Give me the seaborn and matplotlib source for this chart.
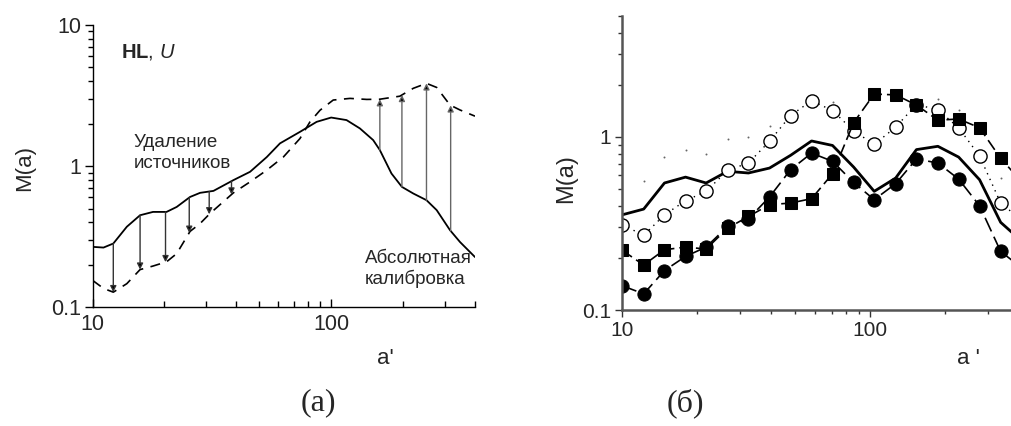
import numpy as np
import pandas as pd
import matplotlib
matplotlib.use("Agg")
import matplotlib.pyplot as plt
import seaborn as sns
from matplotlib.ticker import FixedLocator, FixedFormatter, NullFormatter

# ---------------- data: panel (a) ----------------
a_solid = [10, 11.1, 12.2, 13.9, 15.8, 17.9, 20.4, 22.5, 25.6, 28.2, 32.1, 38.9, 45.7,
           53.7, 61, 74, 86.9, 100, 116, 132, 150, 160, 179, 198, 221, 251, 277, 315, 347, 401]
m_solid = [0.268, 0.265, 0.283, 0.372, 0.449, 0.474, 0.474, 0.514, 0.605, 0.647, 0.668, 0.796, 0.912,
           1.16, 1.45, 1.75, 2.06, 2.21, 2.12, 1.85, 1.53, 1.30, 0.887, 0.713, 0.640, 0.574, 0.488, 0.352, 0.290, 0.227]
a_dash = [10, 11.1, 12.2, 13.9, 15.8, 17.9, 20.4, 22.5, 25.6, 28.2, 31.0, 38.9, 45.7, 53.7,
          63, 74, 81.5, 89.8, 102, 120, 141, 160, 194, 221, 251, 277, 315, 347, 401]
m_dash = [0.155, 0.136, 0.128, 0.147, 0.185, 0.196, 0.210, 0.240, 0.345, 0.392, 0.461, 0.647, 0.774, 0.937,
          1.16, 1.57, 2.06, 2.49, 2.94, 3.02, 2.97, 2.98, 3.13, 3.56, 3.86, 3.61, 2.71, 2.50, 2.26]
arrow_down_a = [12.2, 15.8, 20.2, 25.4, 30.8, 38.2]
arrow_up_a = [160, 198, 251, 317]

# ---------------- data: panel (b) ----------------
a_b = [10, 12.2, 14.8, 18.0, 21.8, 26.6, 32.3, 39.3, 47.8, 58.1, 70.6, 85.9, 104, 127, 154, 188,
       228, 277, 337, 410]
m_filled_circ = [0.138, 0.124, 0.169, 0.204, 0.231, 0.304, 0.336, 0.450, 0.647, 0.807, 0.723, 0.546,
                 0.434, 0.537, 0.746, 0.707, 0.571, 0.400, 0.218, 0.175]
m_squares = [0.221, 0.182, 0.223, 0.231, 0.225, 0.297, 0.347, 0.406, 0.415, 0.440, 0.613, 1.21,
             1.77, 1.75, 1.53, 1.25, 1.27, 1.13, 0.752, 0.55]
m_open_circ = [0.311, 0.270, 0.355, 0.428, 0.485, 0.641, 0.707, 0.944, 1.33, 1.62, 1.42, 1.085,
               0.905, 1.14, 1.54, 1.435, 1.13, 0.776, 0.415, 0.33]
m_solid_b = [0.355, 0.383, 0.542, 0.586, 0.542, 0.633, 0.619, 0.661, 0.783, 0.948, 0.893, 0.670,
             0.485, 0.579, 0.845, 0.883, 0.765, 0.566, 0.321, 0.25]
m_dots = [np.nan, 0.553, 0.766, 0.836, 0.800, 0.973, 1.0, 1.15, np.nan, np.nan, 1.59, np.nan,
          np.nan, np.nan, np.nan, 1.66, 1.43, np.nan, 0.579, np.nan]

# ---------------- style ----------------
sns.set_theme(style="ticks")
plt.rcParams["font.family"] = ["Liberation Sans", "DejaVu Sans"]
plt.rcParams["mathtext.fontset"] = "custom"
plt.rcParams["mathtext.rm"] = "Liberation Sans"
plt.rcParams["mathtext.bf"] = "Liberation Sans:bold"
plt.rcParams["mathtext.it"] = "Liberation Sans:italic"

W, H = 1011, 426
fig = plt.figure(figsize=(W / 100, H / 100), dpi=100)
fig.patch.set_facecolor("white")

def fx(px):
    return px / W

def fy(py):
    return 1 - py / H

axA = fig.add_axes([fx(92.7), fy(307.3), fx(475) - fx(92.7), fy(25) - fy(307.3)])
axB = fig.add_axes([fx(622.3), fy(310), 1 - fx(622.3), fy(16) - fy(310)])

for ax in (axA, axB):
    ax.set_xscale("log")
    ax.set_yscale("log")
    ax.set_facecolor("white")

# ---------------- panel (a) ----------------
dfa_s = pd.DataFrame({"a": a_solid, "M": m_solid})
dfa_d = pd.DataFrame({"a": a_dash, "M": m_dash})
sns.lineplot(data=dfa_s, x="a", y="M", ax=axA, color="black", lw=1.3, sort=False, estimator=None)
sns.lineplot(data=dfa_d, x="a", y="M", ax=axA, color="black", lw=1.2, sort=False, estimator=None)
axA.lines[-1].set_dashes((6, 4.5))

la_s, lm_s = np.log10(a_solid), np.log10(m_solid)
la_d, lm_d = np.log10(a_dash), np.log10(m_dash)
for a in arrow_down_a + arrow_up_a:
    y0 = 10 ** np.interp(np.log10(a), la_s, lm_s)
    y1 = 10 ** np.interp(np.log10(a), la_d, lm_d)
    col = "#333333" if a < 100 else "#666666"
    axA.annotate("", xy=(a, y1), xytext=(a, y0),
                 arrowprops=dict(arrowstyle="-|>", color=col, lw=1.0, mutation_scale=9,
                                 shrinkA=0, shrinkB=0, fc="black", ec=col))

axA.set_xlim(10, 401)
axA.set_ylim(0.1, 10)
axA.xaxis.set_major_locator(FixedLocator([10, 100]))
axA.xaxis.set_major_formatter(FixedFormatter(["10", "100"]))
axA.xaxis.set_minor_locator(FixedLocator([20, 30, 40, 50, 60, 70, 80, 90, 200, 300, 400]))
axA.xaxis.set_minor_formatter(NullFormatter())
axA.yaxis.set_major_locator(FixedLocator([0.1, 1, 10]))
axA.yaxis.set_major_formatter(FixedFormatter(["0.1", "1", "10"]))
axA.yaxis.set_minor_locator(FixedLocator([0.2, 0.3, 0.4, 0.5, 0.6, 0.7, 0.8, 0.9,
                                          2, 3, 4, 5, 6, 7, 8, 9]))
axA.yaxis.set_minor_formatter(NullFormatter())
axA.tick_params(axis="x", which="both", direction="in", labelsize=15.5, pad=5, color="black")
axA.tick_params(axis="x", which="major", length=6, width=1)
axA.tick_params(axis="x", which="minor", length=4, width=1)
axA.tick_params(axis="y", which="both", direction="out", labelsize=15.5, pad=2, color="black")
axA.tick_params(axis="y", which="major", length=6, width=1)
axA.tick_params(axis="y", which="minor", length=3.5, width=1)
axA.set_xlabel("")
axA.set_ylabel("")
for s in ("top", "right"):
    axA.spines[s].set_visible(False)
for s in ("left", "bottom"):
    axA.spines[s].set_color("black")
    axA.spines[s].set_linewidth(1.0)

fig.text(fx(121), fy(52), r"$\mathbf{HL}$, $\mathit{U}$", fontsize=14.5, va="center", ha="left")
fig.text(fx(134), fy(153), "Удаление\nисточников", fontsize=13.5, va="center", ha="left",
         linespacing=1.25)
fig.text(fx(365), fy(269), "Абсолютная\nкалибровка", fontsize=13.5, va="center", ha="left",
         linespacing=1.25)
fig.text(fx(25), fy(168), "M(a)", fontsize=16, rotation=90, va="center", ha="center")

# ---------------- panel (b) ----------------
dfb = pd.DataFrame({"a": a_b, "fc": m_filled_circ, "sq": m_squares, "oc": m_open_circ,
                    "sl": m_solid_b, "dt": m_dots})

sns.lineplot(data=dfb, x="a", y="sl", ax=axB, color="black", lw=2.0, sort=False, estimator=None)
sns.lineplot(data=dfb, x="a", y="oc", ax=axB, color="black", lw=1.0, sort=False, estimator=None,
             marker="o", markersize=9.5, markerfacecolor="white", markeredgecolor="black",
             markeredgewidth=1.0)
axB.lines[-1].set_dashes((1, 3.5))
sns.lineplot(data=dfb, x="a", y="sq", ax=axB, color="black", lw=1.2, sort=False, estimator=None,
             marker="s", markersize=8, markerfacecolor="black", markeredgecolor="black")
axB.lines[-1].set_dashes((7, 3))
sns.lineplot(data=dfb, x="a", y="fc", ax=axB, color="black", lw=1.2, sort=False, estimator=None,
             marker="o", markersize=9.5, markerfacecolor="black", markeredgecolor="black")
axB.lines[-1].set_dashes((9, 3.5))
sns.scatterplot(data=dfb, x="a", y="dt", ax=axB, color="#666666", s=2, linewidth=0)

axB.set_xlim(10, 371)
axB.set_ylim(0.1, 5)
axB.xaxis.set_major_locator(FixedLocator([10, 100]))
axB.xaxis.set_major_formatter(FixedFormatter(["10", "100"]))
axB.xaxis.set_minor_locator(FixedLocator([20, 30, 40, 50, 60, 70, 80, 90, 200, 300]))
axB.xaxis.set_minor_formatter(NullFormatter())
axB.yaxis.set_major_locator(FixedLocator([0.1, 1]))
axB.yaxis.set_major_formatter(FixedFormatter(["0.1", "1"]))
axB.yaxis.set_minor_locator(FixedLocator([0.2, 0.3, 0.4, 0.5, 0.6, 0.7, 0.8, 0.9, 2, 3, 4, 5]))
axB.yaxis.set_minor_formatter(NullFormatter())
axB.tick_params(axis="both", which="both", direction="out", labelsize=15, pad=3,
                color="#333333")
axB.tick_params(axis="both", which="major", length=5, width=1)
axB.tick_params(axis="both", which="minor", length=3, width=1)
axB.set_xlabel("")
axB.set_ylabel("")
for s in ("top", "right"):
    axB.spines[s].set_visible(False)
for s in ("left", "bottom"):
    axB.spines[s].set_color("#555555")
    axB.spines[s].set_linewidth(1.8)

fig.text(fx(566), fy(179), "M(a)", fontsize=17, rotation=90, va="center", ha="center")

# ---------------- axis titles and captions ----------------
fig.text(fx(385), fy(358), "a'", fontsize=16, ha="center", va="center")
fig.text(fx(968), fy(358), "a '", fontsize=16, ha="center", va="center")
fig.text(fx(318), fy(403), "(a)", fontsize=23, ha="center", va="center",
         family=["Liberation Serif", "DejaVu Serif"])
fig.text(fx(685), fy(403), "(б)", fontsize=23, ha="center", va="center",
         family=["Liberation Serif", "DejaVu Serif"])

fig.savefig("out.png", dpi=100, facecolor="white")
